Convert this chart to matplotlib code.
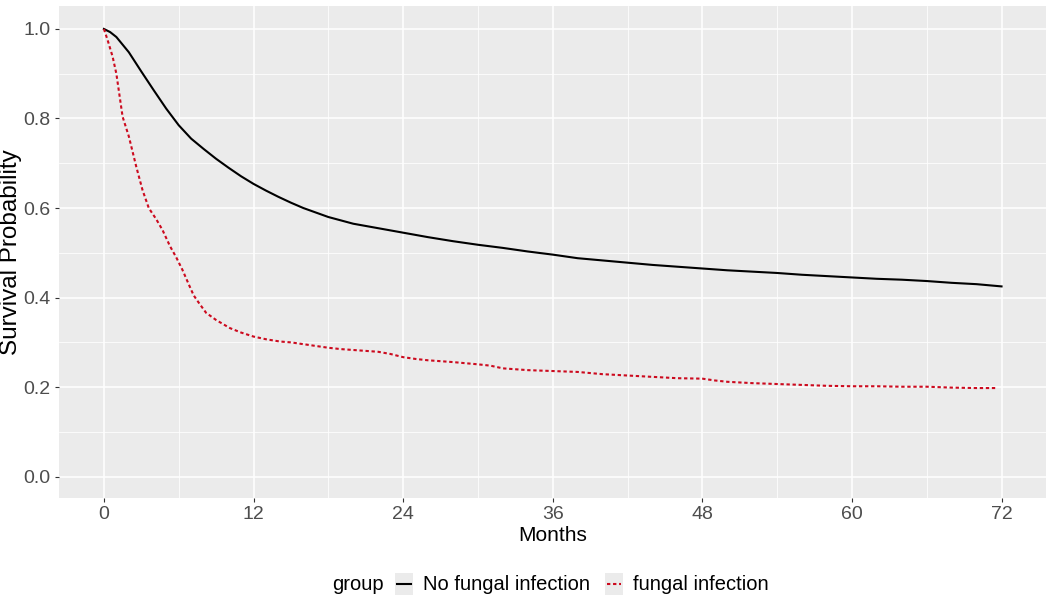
import numpy as np
import matplotlib.pyplot as plt
from matplotlib.lines import Line2D
from matplotlib.patches import Rectangle

plt.rcParams['font.family'] = ['Liberation Sans', 'DejaVu Sans']

# survival curves (months, probability)
t_nofung = [0, 0.5, 1, 1.5, 2, 3, 3.5, 4, 5, 6, 7, 8, 9, 10, 11, 12, 13, 14, 15, 16, 17, 18,
            20, 22, 24, 26, 28, 30, 32, 34, 36, 38, 40, 42, 44, 46, 48, 50, 52, 54, 56,
            58, 60, 62, 64, 66, 68, 70, 72]
s_nofung = [1.0, 0.993, 0.982, 0.965, 0.948, 0.905, 0.884, 0.863, 0.822, 0.785, 0.755, 0.732,
            0.71, 0.69, 0.671, 0.654, 0.639, 0.625, 0.612, 0.6, 0.59, 0.58, 0.565, 0.555,
            0.545, 0.535, 0.526, 0.518, 0.511, 0.503, 0.496, 0.488, 0.483, 0.478, 0.473,
            0.469, 0.465, 0.461, 0.458, 0.455, 0.451, 0.448, 0.445, 0.442, 0.44, 0.437,
            0.433, 0.43, 0.425]

t_fung = [0, 0.3, 0.7, 1.0, 1.5, 2.0, 2.6, 3.1, 3.6, 4.2, 4.7, 5.3, 5.8, 6.3, 6.8, 7.2, 7.7,
          8.2, 9.0, 10.1, 11, 12, 13, 14.1, 15, 16, 17, 18, 19, 20, 21, 22, 23, 24, 25,
          26, 28, 30, 31, 32, 34, 36, 38, 40, 42, 44, 46, 48, 49, 50, 52, 54, 56, 58, 60,
          62, 64, 66, 68, 70, 71.7]
s_fung = [1.0, 0.975, 0.938, 0.9, 0.804, 0.76, 0.692, 0.64, 0.6, 0.575, 0.551, 0.515, 0.49,
          0.462, 0.43, 0.405, 0.385, 0.366, 0.35, 0.332, 0.322, 0.313, 0.307, 0.302, 0.3,
          0.296, 0.292, 0.288, 0.285, 0.283, 0.281, 0.279, 0.274, 0.267, 0.263, 0.26,
          0.256, 0.251, 0.248, 0.242, 0.238, 0.236, 0.234, 0.229, 0.226, 0.223, 0.22,
          0.219, 0.215, 0.212, 0.209, 0.207, 0.205, 0.203, 0.202, 0.202, 0.201, 0.201,
          0.199, 0.198, 0.198]

x_ticks = [0, 12, 24, 36, 48, 60, 72]
y_ticks = [0.0, 0.2, 0.4, 0.6, 0.8, 1.0]
group_labels = ['No fungal infection', 'fungal infection']

RED = '#CC0A1E'
FS = 14.5

fig = plt.figure(figsize=(10.5, 6.1), dpi=100)
ax = fig.add_axes([0.0562, 0.184, 0.9398, 0.806])
ax.set_facecolor('#EBEBEB')

ax.plot(t_nofung, s_nofung, color='black', linewidth=1.5)
ax.plot(t_fung, s_fung, color=RED, linewidth=1.5, dashes=(1.6, 1.3))

ax.set_xlim(-3.6, 75.55)
ax.set_ylim(-0.047, 1.051)
ax.set_xticks(x_ticks)
ax.set_yticks(y_ticks)
ax.set_yticklabels(['%.1f' % v for v in y_ticks])
ax.set_xticks([6, 18, 30, 42, 54, 66], minor=True)
ax.set_yticks([0.1, 0.3, 0.5, 0.7, 0.9], minor=True)
ax.grid(which='major', color='white', linewidth=1.1)
ax.grid(which='minor', color='white', linewidth=0.55)
ax.set_axisbelow(True)
for s in ax.spines.values():
    s.set_visible(False)
ax.tick_params(which='major', length=3, width=0.8, color='#333333',
               labelsize=14, labelcolor='#4D4D4D', pad=3)
ax.tick_params(which='minor', length=0)

ax.set_xlabel('Months', fontsize=FS + 0.5, labelpad=2)
ax.set_ylabel('Survival Probability', fontsize=17.5, labelpad=1)

# legend at bottom, ggplot style
ly = 1 - 584 / 610
fig.text(332 / 1050, ly, 'group', fontsize=FS, va='center', ha='left')
keys = [(395, 'black', None, group_labels[0], 423),
        (605, RED, (1.6, 1.3), group_labels[1], 633)]
for kx, col, dash, lab, tx in keys:
    fig.add_artist(Rectangle((kx / 1050, ly - 11 / 610), 18 / 1050, 22 / 610,
                             transform=fig.transFigure, facecolor='#EBEBEB',
                             edgecolor='none'))
    ln = Line2D([(kx + 2) / 1050, (kx + 16) / 1050], [ly, ly],
                transform=fig.transFigure, color=col, linewidth=1.5)
    if dash:
        ln.set_dashes(dash)
    fig.add_artist(ln)
    fig.text(tx / 1050, ly, lab, fontsize=FS, va='center', ha='left')

fig.savefig('out.png', dpi=100)
